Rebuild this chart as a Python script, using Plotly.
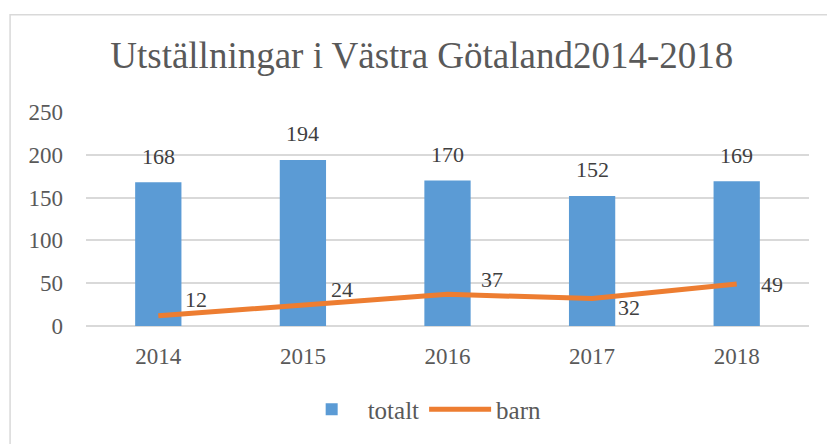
import plotly.graph_objects as go

years = ["2014", "2015", "2016", "2017", "2018"]
totalt = [168, 194, 170, 152, 169]
barn = [12, 24, 37, 32, 49]
y_ticks = [0, 50, 100, 150, 200, 250]

title_text = "Utställningar i Västra Götaland2014-2018"

# label offsets (px) for the line labels
barn_label_shift = [(38, 16), (39, 16), (44, 15), (37, -9), (35, 0)]

FONT = "Liberation Serif, Times New Roman, serif"
GREY = "#595959"
DARK = "#404040"

fig = go.Figure()
fig.add_trace(go.Bar(x=years, y=totalt, name="totalt", marker_color="#5B9BD5",
                     marker_line_width=0))
fig.add_trace(go.Scatter(x=years, y=barn, name="barn", mode="lines",
                         line=dict(color="#ED7D31", width=5)))

annotations = []
for i, v in enumerate(totalt):
    annotations.append(dict(x=i, y=v, text=str(v), showarrow=False, xref="x", yref="y",
                            yanchor="middle", yshift=26,
                            font=dict(family=FONT, size=22, color=DARK)))
for i, (v, (dx, dy)) in enumerate(zip(barn, barn_label_shift)):
    annotations.append(dict(x=i, y=v, text=str(v), showarrow=False, xref="x", yref="y",
                            yanchor="middle", xanchor="center", xshift=dx, yshift=dy,
                            font=dict(family=FONT, size=22, color=DARK)))

fig.update_layout(
    width=827, height=444,
    margin=dict(l=86, r=18, t=112, b=116),
    paper_bgcolor="white", plot_bgcolor="white",
    bargap=0.68,
    title=dict(text=title_text, x=0.51, xanchor="center", y=0.876, yanchor="middle",
               font=dict(family=FONT, size=37, color=GREY)),
    font=dict(family=FONT, color=GREY),
    legend=dict(orientation="h", x=0.29, xanchor="left", y=-0.39, yanchor="middle",
                font=dict(family=FONT, size=25, color=GREY), itemwidth=62,
                traceorder="normal"),
    annotations=annotations,
    shapes=[dict(type="rect", xref="paper", yref="paper", x0=-0.105, x1=1.1,
                 y0=-0.7, y1=1.454, line=dict(color="#D9D9D9", width=1.5),
                 fillcolor="rgba(0,0,0,0)", layer="below")],
)
fig.update_xaxes(type="category", range=[-0.5, len(years) - 0.5], showgrid=False,
                 showline=False, ticks="", ticklabelstandoff=14,
                 tickfont=dict(family=FONT, size=23, color=GREY))
fig.update_yaxes(range=[0, 250], tickvals=y_ticks, showgrid=True, gridcolor="#D9D9D9",
                 gridwidth=1.5, zeroline=True, zerolinecolor="#D9D9D9", zerolinewidth=1.5,
                 showline=False, ticks="", ticklabelstandoff=22,
                 tickfont=dict(family=FONT, size=23, color=GREY))

fig.write_html("out.html", config={"displayModeBar": False},
               post_script="document.body.style.margin='0';")
